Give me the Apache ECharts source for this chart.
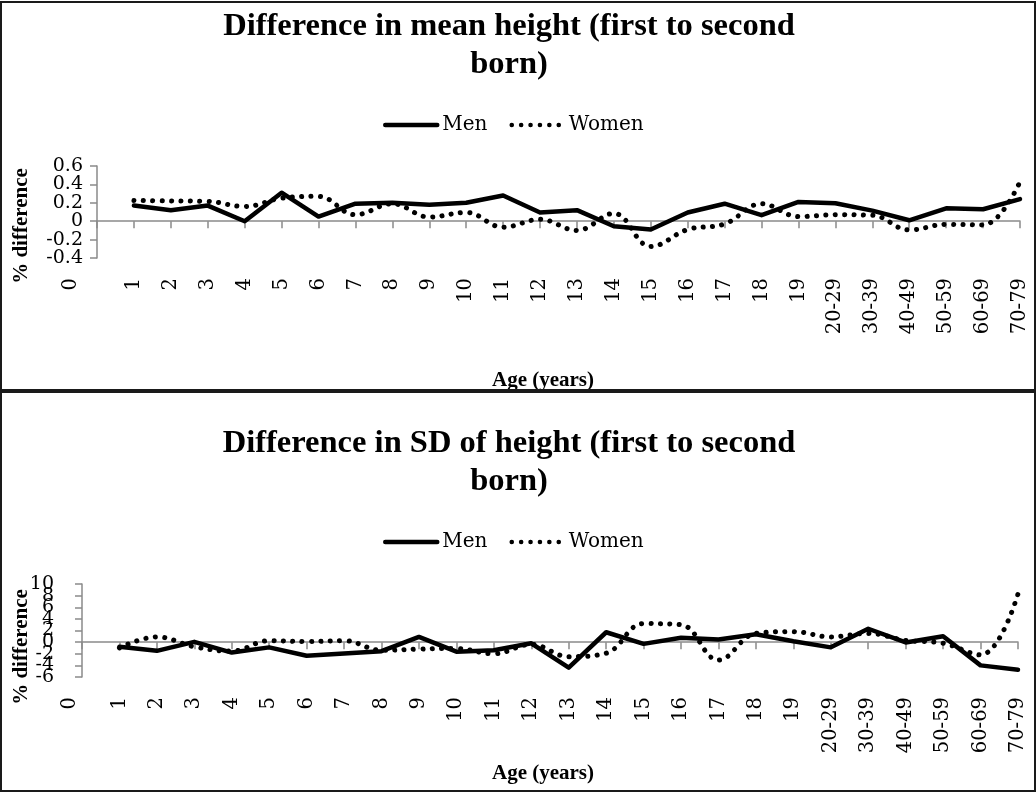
<!DOCTYPE html>
<html><head><meta charset="utf-8">
<script src="https://cdn.jsdelivr.net/npm/echarts@6/dist/echarts.min.js"></script>
<style>
html,body{margin:0;padding:0;background:#fff;}
#c1{position:absolute;left:0;top:0;width:1036px;height:391px;}
#c2{position:absolute;left:0;top:391px;width:1036px;height:401px;}
.b{position:absolute;border:2px solid #1a1a1a;box-sizing:border-box;pointer-events:none;}
</style></head><body>
<div id="c1"></div><div id="c2"></div>
<div class="b" style="left:0;top:1px;width:1036px;height:390px"></div>
<div class="b" style="left:0;top:391px;width:1036px;height:401px"></div>
<script>
const ages = ['0','1','2','3','4','5','6','7','8','9','10','11','12','13','14','15','16','17','18','19','20-29','30-39','40-49','50-59','60-69','70-79'];
const meanTicks = [-0.4, 0.6, 0.2];
const sdTicks = [-6, 10, 2];
const meanMen = [null, 0.17, 0.12, 0.17, 0.0, 0.31, 0.05, 0.19, 0.2, 0.18, 0.2, 0.28, 0.095, 0.12, -0.055, -0.09, 0.095, 0.19, 0.065, 0.21, 0.195, 0.115, 0.01, 0.14, 0.13, 0.24];
const meanWomen = [null, 0.225, 0.22, 0.215, 0.16, 0.25, 0.27, 0.07, 0.19, 0.045, 0.095, -0.065, 0.02, -0.1, 0.085, -0.275, -0.09, -0.03, 0.19, 0.05, 0.07, 0.065, -0.095, -0.035, -0.04, 0.43];
const sdMen = [null, -0.8, -1.5, 0.05, -1.8, -0.9, -2.35, -1.95, -1.55, 0.9, -1.65, -1.4, -0.2, -4.4, 1.7, -0.3, 0.75, 0.45, 1.35, 0.15, -0.9, 2.3, -0.05, 1.0, -4.0, -4.75];
const sdWomen = [null, -1.0, 0.9, -0.8, -1.55, 0.25, 0.1, 0.25, -1.4, -1.2, -1.1, -2.0, -0.4, -2.5, -1.9, 3.2, 3.0, -3.1, 1.5, 1.8, 0.9, 1.5, 0.3, -0.2, -2.2, 8.3];

const SERIF = "'DejaVu Serif', serif";
const TIMES = "'Liberation Serif', serif";
const AXC = '#8a8a8a';

function fmtNum(v){ if (Math.abs(v) < 1e-9) return '0'; return (Math.round(v*10)/10).toString(); }
// labels split over two overlaid axes (even / odd tick index) so none is dropped for overlap
function fmtPart(ticks, parity){
  return function(v){
    const k = Math.round((v - ticks[0]) / ticks[2]);
    return (k % 2 === parity) ? fmtNum(v) : '';
  };
}

function yAxisDef(cfg, parity, showLine){
  return {
    type: 'value', position: 'left', offset: 0,
    min: cfg.ticks[0], max: cfg.ticks[1], interval: cfg.ticks[2],
    splitLine: {show: false},
    axisLine: {show: showLine, onZero: false, lineStyle: {color: AXC, width: 1.5}},
    axisTick: {show: showLine, length: 7, lineStyle: {color: AXC, width: 1.5}},
    axisLabel: {margin: cfg.yLabelMargin, fontFamily: SERIF, fontSize: 19, color: '#000',
      formatter: fmtPart(cfg.ticks, parity), showMinLabel: true, showMaxLabel: true, hideOverlap: false}
  };
}

function makeOption(cfg){
  return {
    animation: false,
    backgroundColor: '#fff',
    title: {
      text: cfg.title, left: 504, top: cfg.titleTop, textAlign: 'center',
      textStyle: {fontFamily: TIMES, fontWeight: 'bold', fontSize: 32.5, lineHeight: 38, color: '#000'}
    },
    legend: {
      left: 378, top: cfg.legendTop, itemWidth: 52, itemHeight: 14, itemGap: 22,
      itemStyle: {opacity: 0},
      lineStyle: {width: 4.5},
      textStyle: {fontFamily: SERIF, fontSize: 20, color: '#000', padding: [0,0,0,0]},
      data: ['Men','Women']
    },
    graphic: [
      {type: 'text', left: 492, top: cfg.xNameTop,
       style: {text: 'Age (years)', fontFamily: TIMES, fontWeight: 'bold', fontSize: 21, fill: '#000'}},
      {type: 'text', x: 22, y: cfg.yNameY, rotation: Math.PI / 2,
       style: {text: '% difference', fontFamily: TIMES, fontWeight: 'bold', fontSize: 21, fill: '#000',
               align: 'center', verticalAlign: 'middle'}}
    ],
    grid: {left: cfg.gridLeft, right: cfg.gridRight, top: cfg.gridTop, height: cfg.gridHeight,
           containLabel: false, outerBoundsMode: 'none'},
    xAxis: {
      type: 'category', data: ages, boundaryGap: false,
      axisLine: {onZero: true, onZeroAxisIndex: 0, lineStyle: {color: AXC, width: 1.5}},
      axisTick: {show: true, length: 7, interval: 0, lineStyle: {color: AXC, width: 1.5}},
      axisLabel: {rotate: 90, interval: 0, margin: 20, fontFamily: SERIF, fontSize: 19.5, color: '#000',
        hideOverlap: false,
        formatter: function(v, i){ return i === 0 ? '{z|' + v + '}' : v; },
        rich: {z: {fontFamily: SERIF, fontSize: 19.5, color: '#000', padding: [0, 0, cfg.zeroShift, 0]}}}
    },
    yAxis: [yAxisDef(cfg, 0, true), yAxisDef(cfg, 1, false)],
    series: [
      {name: 'Men', type: 'line', yAxisIndex: 0, data: cfg.men, symbol: 'none', connectNulls: false,
       lineStyle: {color: '#000', width: 4.5, cap: 'round', join: 'round'}, itemStyle: {color: '#000'}},
      {name: 'Women', type: 'line', yAxisIndex: 0, data: cfg.women, symbol: 'none', smooth: 0.4,
       lineStyle: {color: '#000', width: 5, type: [0.1, 9.3], cap: 'round'}, itemStyle: {color: '#000'}}
    ]
  };
}

const c1 = echarts.init(document.getElementById('c1'), null, {renderer: 'canvas'});
c1.setOption(makeOption({
  title: 'Difference in mean height (first to second\nborn)', titleTop: 3, legendTop: 110,
  gridLeft: 97, gridRight: 16, gridTop: 166, gridHeight: 92,
  ticks: meanTicks, men: meanMen, women: meanWomen, zeroShift: 52,
  xNameTop: 370, yLabelMargin: 14, yNameY: 226
}));

const c2 = echarts.init(document.getElementById('c2'), null, {renderer: 'canvas'});
c2.setOption(makeOption({
  title: 'Difference in SD of height (first to second\nborn)', titleTop: 29, legendTop: 136,
  gridLeft: 82, gridRight: 18, gridTop: 193, gridHeight: 93,
  ticks: sdTicks, men: sdMen, women: sdWomen, zeroShift: 24,
  xNameTop: 372, yLabelMargin: 28, yNameY: 256
}));
</script>
</body></html>
